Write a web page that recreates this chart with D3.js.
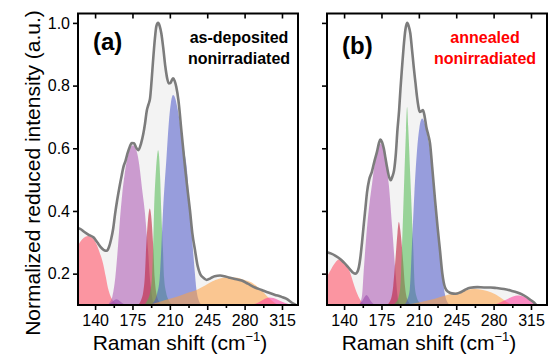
<!DOCTYPE html>
<html><head><meta charset="utf-8">
<script src="https://cdn.jsdelivr.net/npm/d3@7"></script>
<style>body{margin:0;background:#fff}svg{display:block}</style>
</head><body><svg id="c" width="548" height="364"></svg>
<script>
// ---------- data ----------
const xTicks = [140, 175, 210, 245, 280, 315];
const xMinorTicks = [157.5, 192.5, 227.5, 262.5, 297.5];
const yTicks = [0.2, 0.4, 0.6, 0.8, 1.0];
const panelLabels = ["(a)", "(b)"];
const conditionA = ["as-deposited", "nonirradiated"];
const conditionB = ["annealed", "nonirradiated"];

const envA = [[124,0.345],[126,0.343],[130,0.333],[134,0.324],[138.4,0.316],[142,0.3],[146.3,0.281],[149,0.274],[151,0.273],[153,0.285],[155,0.31],[157,0.345],[158.7,0.39],[160.7,0.435],[163,0.48],[165,0.515],[166.5,0.54],[168.5,0.56],[170.5,0.585],[172.5,0.605],[174.3,0.617],[176.5,0.616],[178.5,0.602],[180.5,0.594],[183,0.615],[185.2,0.647],[186.8,0.68],[188.4,0.72],[190,0.74],[191.5,0.76],[193,0.82],[194.3,0.88],[196,0.95],[197.4,0.99],[199,1.0],[200.5,0.99],[202,0.967],[204,0.915],[205.8,0.86],[207.5,0.823],[209,0.807],[210.5,0.808],[212,0.818],[213,0.823],[214.5,0.815],[216,0.796],[218,0.754],[221,0.65],[224.2,0.54],[226.5,0.47],[228.9,0.40],[231,0.33],[233.6,0.274],[236,0.225],[238.3,0.2],[241,0.188],[244.5,0.18],[248,0.185],[252,0.192],[257,0.194],[261,0.192],[265,0.188],[270,0.184],[277.3,0.178],[283,0.168],[289.7,0.156],[296,0.148],[302.2,0.14],[308,0.133],[314.7,0.126],[319,0.12],[324,0.108],[328,0.1],[330,0.096]];
const redA = [[124,0.29],[128,0.31],[131,0.318],[133.5,0.32],[137,0.315],[141,0.296],[144,0.27],[147.5,0.232],[150,0.19],[152,0.155],[154.5,0.128],[157,0.113],[161,0.104],[166,0.1]];
const violetA = [[150,0.1],[154,0.105],[157,0.113],[160,0.118],[163,0.113],[166,0.105],[170,0.1]];
const magentaA = [[152,0.1],[154,0.11],[156,0.125],[159,0.19],[161.5,0.29],[163,0.36],[165,0.44],[168,0.525],[171,0.58],[173.5,0.605],[175.5,0.61],[177.5,0.603],[180,0.575],[182,0.53],[184,0.47],[186.5,0.4],[188.5,0.32],[190,0.255],[191.2,0.19],[192.5,0.15],[194.3,0.11],[197,0.1]];
const darkredA = [[180,0.1],[183,0.115],[185,0.14],[186.5,0.187],[188,0.296],[189.5,0.37],[191.2,0.408],[192.5,0.385],[194.3,0.296],[195.8,0.187],[197.5,0.135],[200,0.11],[203,0.1]];
const greenA = [[186,0.1],[189,0.115],[191.5,0.14],[193.3,0.187],[194.3,0.28],[195.2,0.40],[196.8,0.52],[198.2,0.58],[199,0.594],[199.8,0.58],[201,0.5],[202,0.40],[203.5,0.28],[204.6,0.187],[206.5,0.14],[209,0.115],[213,0.1]];
const blueA = [[192,0.1],[195,0.11],[198,0.135],[200.5,0.187],[202,0.28],[203.6,0.40],[205.2,0.49],[206.7,0.562],[209,0.68],[211,0.745],[213,0.77],[215,0.76],[217,0.73],[219.5,0.68],[222,0.62],[224,0.58],[225.8,0.54],[228,0.44],[230.5,0.327],[233,0.22],[235,0.146],[237,0.115],[240,0.1]];
const orangeA = [[185,0.1],[195,0.105],[205,0.115],[215,0.125],[225,0.137],[235,0.148],[243,0.162],[250,0.176],[255.4,0.183],[262,0.188],[271,0.188],[280,0.18],[286.6,0.172],[292,0.158],[296,0.146],[301,0.128],[305.4,0.114],[309,0.105],[313,0.1]];
const pinkA = [[284,0.1],[290,0.104],[295,0.112],[299,0.12],[303,0.124],[307,0.122],[312,0.115],[318,0.106],[324,0.1]];

const envB = [[124,0.268],[128,0.264],[132,0.257],[136.3,0.247],[139.7,0.236],[142.5,0.226],[145.5,0.214],[148.5,0.203],[150.6,0.2],[152.3,0.205],[153.8,0.22],[155.2,0.25],[156.8,0.3],[158.5,0.36],[160,0.41],[161.5,0.46],[163.5,0.5],[166,0.525],[168.5,0.56],[170.9,0.59],[172.5,0.615],[174,0.628],[175.5,0.62],[177.2,0.599],[178.7,0.57],[180.2,0.54],[182,0.51],[183.7,0.498],[185.2,0.51],[186.8,0.53],[188.4,0.58],[190,0.66],[191.5,0.72],[192.8,0.79],[194.3,0.86],[195.8,0.925],[197.4,0.978],[199,1.0],[200.5,0.99],[202,0.967],[203.6,0.915],[205.2,0.86],[206.8,0.81],[208.3,0.764],[209.5,0.735],[210.8,0.716],[212.3,0.718],[213.9,0.722],[215.5,0.7],[217,0.668],[219,0.64],[220.5,0.615],[222.5,0.54],[225.2,0.434],[227.5,0.35],[229.8,0.274],[232,0.2],[234.5,0.156],[237.5,0.142],[240.8,0.137],[244.5,0.136],[248.6,0.14],[253,0.148],[258,0.155],[264.7,0.157],[271,0.156],[277.3,0.156],[283,0.154],[289.7,0.151],[296,0.146],[302.2,0.14],[307,0.133],[311.5,0.124],[315,0.115],[317.8,0.108],[320,0.1],[322.5,0.093],[326,0.089],[330,0.087]];
const redB = [[124,0.19],[128,0.215],[132,0.236],[135,0.245],[138,0.243],[142,0.23],[146,0.2],[149,0.167],[152,0.138],[155,0.117],[158,0.105],[162,0.1]];
const violetB = [[152,0.1],[155,0.105],[157.5,0.115],[159.5,0.127],[161,0.132],[162.5,0.127],[164.5,0.115],[167,0.105],[170,0.1]];
const magentaB = [[154,0.1],[156.8,0.13],[158.4,0.21],[161.5,0.348],[164,0.43],[166.2,0.487],[169,0.56],[172,0.605],[174,0.615],[176,0.607],[179,0.56],[181.8,0.487],[185,0.348],[188,0.21],[190,0.13],[192,0.1]];
const darkredB = [[180,0.1],[184,0.12],[186,0.16],[188,0.242],[190,0.33],[191.3,0.365],[192.6,0.34],[195.2,0.242],[197,0.16],[199,0.12],[203,0.1]];
const greenB = [[185,0.1],[189,0.11],[191,0.125],[192.7,0.16],[194.3,0.295],[196.4,0.508],[198,0.66],[199,0.732],[200,0.67],[202,0.508],[204.6,0.295],[206.2,0.16],[208,0.125],[210,0.11],[214,0.1]];
const blueB = [[196,0.1],[199,0.115],[201.5,0.15],[203.6,0.295],[205.8,0.455],[208.3,0.594],[210.5,0.665],[213,0.695],[215.5,0.68],[218,0.64],[220.5,0.594],[223,0.52],[225.2,0.434],[227.5,0.35],[229.8,0.274],[232.9,0.167],[236,0.114],[239,0.1]];
const orangeB = [[195,0.1],[205,0.105],[215,0.112],[225,0.12],[235,0.13],[245,0.14],[255,0.148],[262,0.151],[270,0.148],[278,0.14],[286,0.125],[292,0.11],[297,0.1]];
const pinkB = [[278,0.1],[284,0.105],[290,0.114],[296,0.124],[302,0.13],[306,0.129],[310,0.124],[315,0.113],[320,0.104],[326,0.1]];

// ---------- drawing ----------
const compStyles = [
  {fill:"#ff5a6e", op:0.62},  // red
  {fill:"#7a2ea0", op:0.6},   // violet
  {fill:"#b060b8", op:0.6},   // magenta
  {fill:"#c0203a", op:0.6},   // dark red
  {fill:"#4cb84c", op:0.55},  // green
  {fill:"#4a55c8", op:0.55},  // blue
  {fill:"#ffa040", op:0.55},  // orange
  {fill:"#ff3399", op:0.55}   // pink
];
const panels = [
  {x0:78, env:envA, comps:[redA,violetA,magentaA,darkredA,greenA,blueA,orangeA,pinkA], label:panelLabels[0], labelY:50, cond:conditionA, condColor:"#000", condX:239, yLabels:true},
  {x0:327, env:envB, comps:[redB,violetB,magentaB,darkredB,greenB,blueB,orangeB,pinkB], label:panelLabels[1], labelY:54, cond:conditionB, condColor:"#ff0000", condX:485, yLabels:false}
];
const PW = 220, PTOP = 13.5, PBOT = 305;
const FONT = "'Liberation Sans', Arial, Helvetica, sans-serif";
const svg = d3.select("#c");
const y = d3.scaleLinear().domain([0.1, 1.03]).range([PBOT, PTOP]);

panels.forEach((p, i) => {
  const x = d3.scaleLinear().domain([124, 330]).range([p.x0, p.x0 + PW]);
  const clipId = "clip" + i;
  svg.append("clipPath").attr("id", clipId).append("rect")
    .attr("x", p.x0).attr("y", PTOP).attr("width", PW).attr("height", PBOT - PTOP);
  const g = svg.append("g").attr("clip-path", `url(#${clipId})`);
  const area = d3.area().x(d => x(d[0])).y0(y(0.1)).y1(d => y(d[1])).curve(d3.curveMonotoneX);
  const line = d3.line().x(d => x(d[0])).y(d => y(d[1])).curve(d3.curveMonotoneX);
  g.append("path").datum(p.env).attr("d", area).attr("fill", "#ebebeb").attr("fill-opacity", 0.6);
  p.comps.forEach((c, k) => {
    g.append("path").datum(c).attr("d", area)
      .attr("fill", compStyles[k].fill).attr("fill-opacity", compStyles[k].op);
  });
  g.append("path").datum(p.env).attr("d", line).attr("fill", "none")
    .attr("stroke", "#7c7c7c").attr("stroke-width", 2.6).attr("stroke-linejoin", "round");

  // axes
  const ax = svg.append("g").attr("font-family", FONT);
  ax.append("g").attr("transform", `translate(0,${PBOT})`)
    .call(d3.axisBottom(x).tickValues(xTicks).tickSize(5).tickSizeOuter(0).tickPadding(5));
  ax.append("g").attr("transform", `translate(0,${PBOT})`)
    .call(d3.axisBottom(x).tickValues(xMinorTicks).tickSize(3).tickSizeOuter(0).tickFormat(""));
  ax.append("g").attr("transform", `translate(0,${PTOP})`)
    .call(d3.axisTop(x).tickValues(xTicks).tickSize(-5).tickSizeOuter(0).tickFormat(""));
  ax.append("g").attr("transform", `translate(${p.x0},0)`)
    .call(d3.axisLeft(y).tickValues(yTicks).tickSize(5).tickSizeOuter(0).tickPadding(3)
      .tickFormat(p.yLabels ? d3.format(".1f") : ""));
  ax.selectAll(".domain").remove();
  ax.selectAll(".tick line").attr("stroke", "#000").attr("stroke-width", 1.6);
  ax.selectAll(".tick text").attr("font-size", 16).attr("fill", "#000").attr("font-family", FONT);
  // frame
  svg.append("rect").attr("x", p.x0).attr("y", PTOP).attr("width", PW).attr("height", PBOT - PTOP)
    .attr("fill", "none").attr("stroke", "#000").attr("stroke-width", 2);

  // labels
  svg.append("text").attr("x", p.x0 + 15).attr("y", p.labelY).text(p.label)
    .attr("font-family", FONT).attr("font-weight", "bold").attr("font-size", 24).attr("fill", "#000");
  p.cond.forEach((t, k) => {
    svg.append("text").attr("x", p.condX).attr("y", 43 + k * 21).attr("text-anchor", "middle")
      .attr("font-family", FONT).attr("font-weight", "bold").attr("font-size", 16)
      .attr("fill", p.condColor).text(t);
  });
  // x title
  const xt = svg.append("text").attr("x", p.x0 + PW / 2 - 8).attr("y", 350).attr("text-anchor", "middle")
    .attr("font-family", FONT).attr("font-size", 21).attr("fill", "#000");
  xt.append("tspan").text("Raman shift (cm");
  xt.append("tspan").attr("font-size", 13).attr("dy", -9).text("\u22121");
  xt.append("tspan").attr("dy", 9).text(")");
});

svg.append("text").attr("transform", "translate(40,173) rotate(-90)").attr("text-anchor", "middle")
  .attr("font-family", FONT).attr("font-size", 21).attr("fill", "#000")
  .text("Normalized reduced intensity (a.u.)");
</script>
</body></html>
